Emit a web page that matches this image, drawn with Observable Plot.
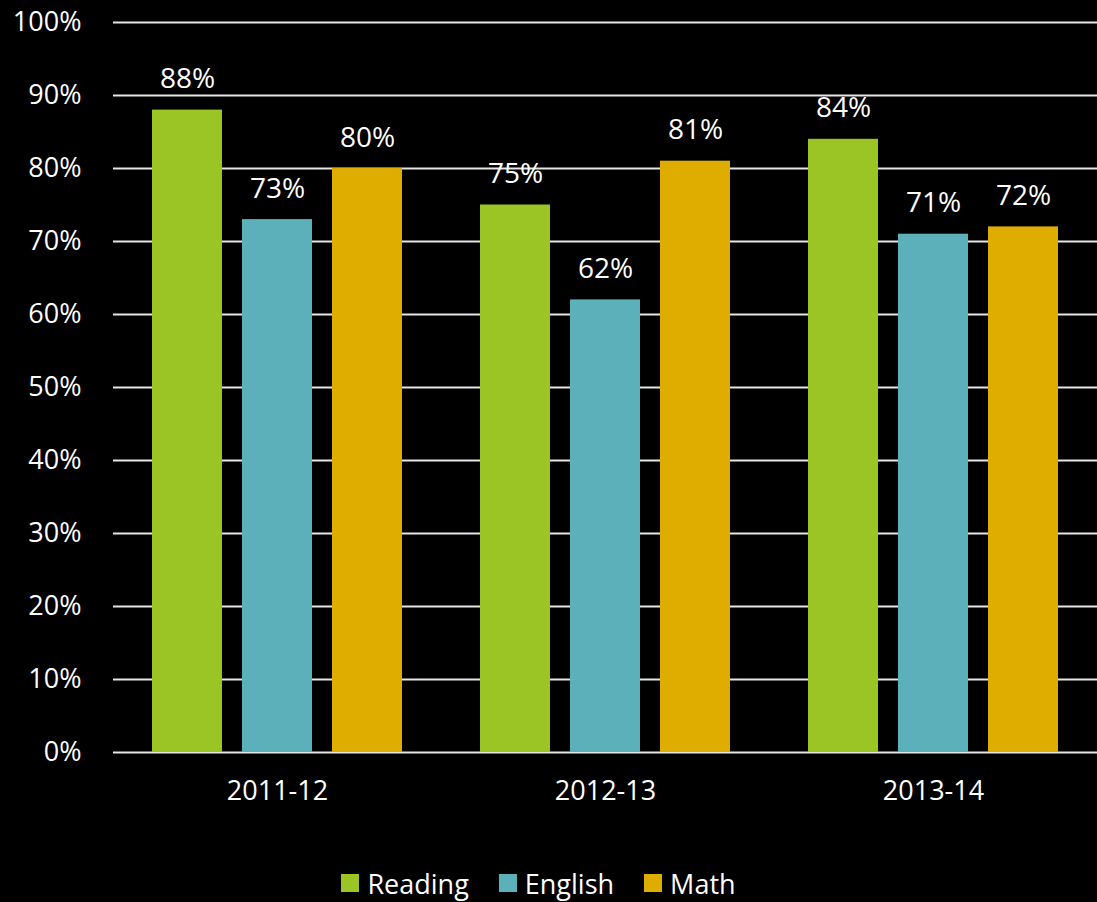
<!DOCTYPE html>
<html>
<head>
<meta charset="utf-8">
<script src="https://cdn.jsdelivr.net/npm/d3@7"></script>
<script src="https://cdn.jsdelivr.net/npm/@observablehq/plot@0.6"></script>
<style>
  html, body { margin: 0; padding: 0; background: #000; }
  #chart svg { display: block; }
  #legend { height: 52px; display: flex; justify-content: center; align-items: center; gap: 30px;
    font-family: "Open Sans", sans-serif; font-size: 27px; color: #fff; padding-right: 20px; padding-top: 14px; box-sizing: border-box; }
  #legend .item { display: flex; align-items: center; gap: 8px; }
  #legend .sw { width: 18px; height: 18px; display: inline-block; }
</style>
</head>
<body>
<div id="chart"></div>
<div id="legend"></div>
<script>
const years = ["2011-12", "2012-13", "2013-14"];
const subjects = ["Reading", "English", "Math"];
const reading = [88, 75, 84];
const english = [73, 62, 71];
const math = [80, 81, 72];
const colors = ["#9AC524", "#5BB0B9", "#DFAD00"];
const yTicks = [0, 10, 20, 30, 40, 50, 60, 70, 80, 90, 100];

const series = [reading, english, math];
const data = years.flatMap((year, i) =>
  subjects.map((subject, j) => ({ year, subject, value: series[j][i] }))
);

const chart = Plot.plot({
  width: 1097,
  height: 850,
  marginTop: 22,
  marginBottom: 98,
  marginLeft: 112,
  marginRight: 0,
  style: { background: "#000", color: "#fff", fontFamily: "'Open Sans', sans-serif", fontSize: "27px" },
  fx: { domain: years, padding: 0, label: null, axis: null },
  x: { domain: subjects, axis: null, paddingInner: 0.22, paddingOuter: 0.43 },
  y: { domain: [0, 100], label: null },
  color: { domain: subjects, range: colors },
  marks: [
    Plot.gridY(yTicks, { stroke: "#e6e6e6", strokeOpacity: 1, strokeWidth: 2 }),
    Plot.axisY(yTicks, { tickSize: 0, tickPadding: 32, tickFormat: d => d + "%", fontSize: 27, label: null }),
    Plot.barY(data, { fx: "year", x: "subject", y: "value", fill: "subject" }),
    Plot.text(data, { fx: "year", x: "subject", y: "value", text: d => d.value + "%", lineAnchor: "bottom", dy: -22, fill: "#fff", fontSize: 28 }),
    Plot.axisFx({ anchor: "bottom", tickSize: 0, tickPadding: 28, fontSize: 27, label: null })
  ]
});
document.getElementById("chart").appendChild(chart);

const legend = document.getElementById("legend");
subjects.forEach((s, i) => {
  const item = document.createElement("div");
  item.className = "item";
  const sw = document.createElement("span");
  sw.className = "sw";
  sw.style.background = colors[i];
  const t = document.createElement("span");
  t.textContent = s;
  item.appendChild(sw);
  item.appendChild(t);
  legend.appendChild(item);
});
</script>
</body>
</html>
